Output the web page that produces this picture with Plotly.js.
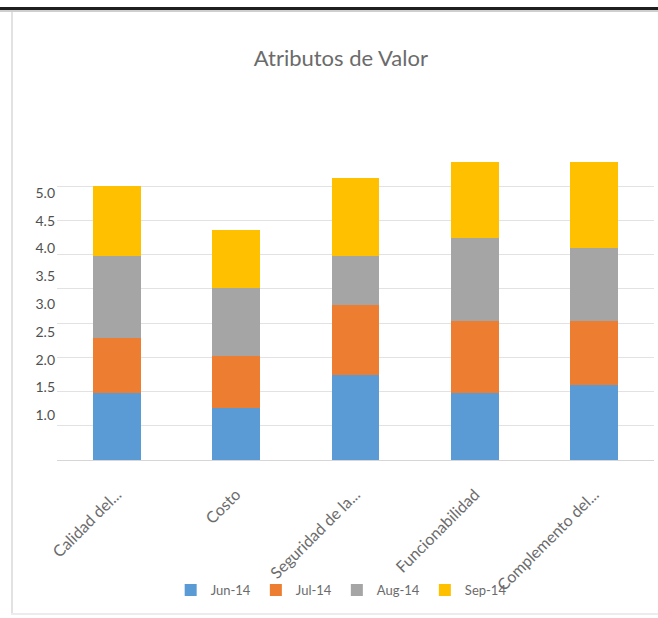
<!DOCTYPE html>
<html>
<head>
<meta charset="utf-8">
<script src="https://cdn.plot.ly/plotly-3.0.1.min.js"></script>
<style>
  html, body { margin: 0; padding: 0; background: #ffffff; }
  #wrap { position: relative; width: 658px; height: 618px; overflow: hidden; }
  #chart { position: absolute; left: 0; top: 0; width: 658px; height: 618px; }
  .frame-top { position: absolute; left: 0; top: 7px; width: 658px; height: 3px; background: #1f1f1f; }
  .frame-top2 { position: absolute; left: 0; top: 10px; width: 658px; height: 2px; background: #cfcfcf; }
  .frame-left { position: absolute; left: 11px; top: 12px; width: 2px; height: 603px; background: #e2e2e2; }
  .frame-bottom { position: absolute; left: 11px; top: 613px; width: 647px; height: 2px; background: #ececec; }
</style>
</head>
<body>
<div id="wrap">
  <div id="chart"></div>
  <div class="frame-top"></div>
  <div class="frame-top2"></div>
  <div class="frame-left"></div>
  <div class="frame-bottom"></div>
</div>
<script>
// Categories (value attributes) and monthly scores, stacked per attribute
const categories = ["Calidad del...", "Costo", "Seguridad de la...", "Funcionabilidad", "Complemento del..."];
const seriesNames = ["Jun-14", "Jul-14", "Aug-14", "Sep-14"];
const jun14 = [1.40, 1.13, 1.73, 1.41, 1.55];
const jul14 = [0.99, 0.93, 1.26, 1.28, 1.14];
const aug14 = [1.48, 1.23, 0.87, 1.50, 1.32];
const sep14 = [1.25, 1.05, 1.41, 1.36, 1.54];
const yTickVals = [1.0, 1.5, 2.0, 2.5, 3.0, 3.5, 4.0, 4.5, 5.0];
const yTickText = ["1.0", "1.5", "2.0", "2.5", "3.0", "3.5", "4.0", "4.5", "5.0"];

const colors = ["#5B9BD5", "#ED7D31", "#A5A5A5", "#FFC000"];
const values = [jun14, jul14, aug14, sep14];

const traces = values.map((v, i) => ({
  type: "bar",
  name: seriesNames[i],
  x: categories,
  y: v,
  marker: { color: colors[i], line: { width: 0 } },
  hoverinfo: "x+y+name"
}));

// value axis window and evenly spaced background grid
const yMin = 0.197;
const gridStep = 0.6152;
const yMax = yMin + 9 * gridStep + 0.002;

const layout = {
  width: 658,
  height: 618,
  paper_bgcolor: "rgba(0,0,0,0)",
  plot_bgcolor: "rgba(0,0,0,0)",
  margin: { l: 57, r: 4, t: 152, b: 158 },
  barmode: "stack",
  bargap: 0.6,
  font: { family: "Lato, 'Open Sans', sans-serif", color: "#595959", size: 12 },
  title: {
    text: "Atributos de Valor",
    xref: "container", yref: "container",
    x: 0.518, y: 0.905, xanchor: "center", yanchor: "middle",
    font: { family: "Lato, sans-serif", size: 22, color: "#6b6b6b" }
  },
  xaxis: {
    type: "category",
    tickangle: -45,
    showgrid: false,
    showline: true,
    linecolor: "#d6d6d6",
    linewidth: 1,
    ticks: "",
    zeroline: false,
    ticklabelstandoff: 18,
    ticklabelshift: 0,
    tickfont: { size: 16, color: "#6b6b6b" },
    automargin: false
  },
  yaxis: {
    range: [yMin, yMax],
    tickmode: "array",
    tickvals: yTickVals,
    ticktext: yTickText,
    showgrid: false,
    zeroline: false,
    showline: false,
    ticks: "",
    ticklabelstandoff: 1,
    tickfont: { size: 14, color: "#505050" },
    automargin: false,
    minor: {
      tickmode: "linear",
      tick0: yMin,
      dtick: gridStep,
      showgrid: true,
      gridcolor: "#e2e2e2",
      gridwidth: 1,
      ticks: ""
    }
  },
  showlegend: true,
  legend: {
    orientation: "h",
    x: 0.476, xanchor: "center",
    y: -0.422, yanchor: "middle",
    font: { size: 13, color: "#6b6b6b" },
    itemwidth: 30,
    traceorder: "normal",
    bgcolor: "rgba(0,0,0,0)"
  }
};

Plotly.newPlot("chart", traces, layout, { displayModeBar: false, staticPlot: true });
</script>
</body>
</html>
